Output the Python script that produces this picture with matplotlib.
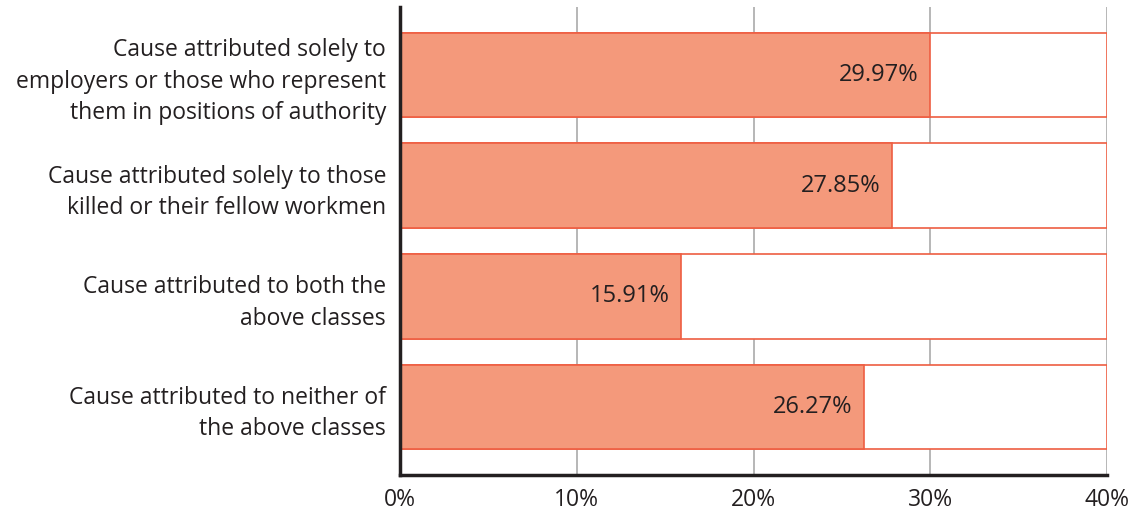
import matplotlib.pyplot as plt
import numpy as np

categories = [
    "Cause attributed solely to\nemployers or those who represent\nthem in positions of authority",
    "Cause attributed solely to those\nkilled or their fellow workmen",
    "Cause attributed to both the\nabove classes",
    "Cause attributed to neither of\nthe above classes",
]
values = [29.97, 27.85, 15.91, 26.27]
ticks = [0, 10, 20, 30, 40]

plt.rcParams["font.family"] = ["Open Sans", "DejaVu Sans"]

fig = plt.figure(figsize=(11.37, 5.12), dpi=100)
ax = fig.add_axes([400 / 1137, 37 / 512, 707 / 1137, 468 / 512])

y = np.arange(len(categories))
h = 0.765
fill_c = "#F4997B"
edge_c = "#EE5E42"

ax.barh(y, [40] * len(y), height=h, color="white", edgecolor=edge_c, linewidth=1.2, zorder=1)
ax.barh(y, values, height=h, color=fill_c, edgecolor=edge_c, linewidth=1.2, zorder=2)

for yi, v in zip(y, values):
    ax.text(v - 0.65, yi, f"{v:.2f}%", ha="right", va="center", fontsize=17, color="#231F20", zorder=4)

for t in ticks[1:]:
    ax.axvline(t, color="#AAAAAA", linewidth=1.2, zorder=0)

ax.set_xlim(0, 40)
ax.set_ylim(3.614, -0.614)
ax.set_xticks(ticks)
ax.set_xticklabels([f"{t}%" for t in ticks], fontsize=16.5, color="#231F20")
ax.set_yticks(y)
ax.set_yticklabels(categories, fontsize=16.5, color="#231F20", linespacing=1.4)
ax.tick_params(axis="both", length=0)
ax.tick_params(axis="y", pad=10)
ax.tick_params(axis="x", pad=9)

for s in ["top", "right"]:
    ax.spines[s].set_visible(False)
for s in ["left", "bottom"]:
    ax.spines[s].set_linewidth(2.5)
    ax.spines[s].set_color("#231F20")
    ax.spines[s].set_zorder(5)

fig.savefig("out.png", dpi=100)
